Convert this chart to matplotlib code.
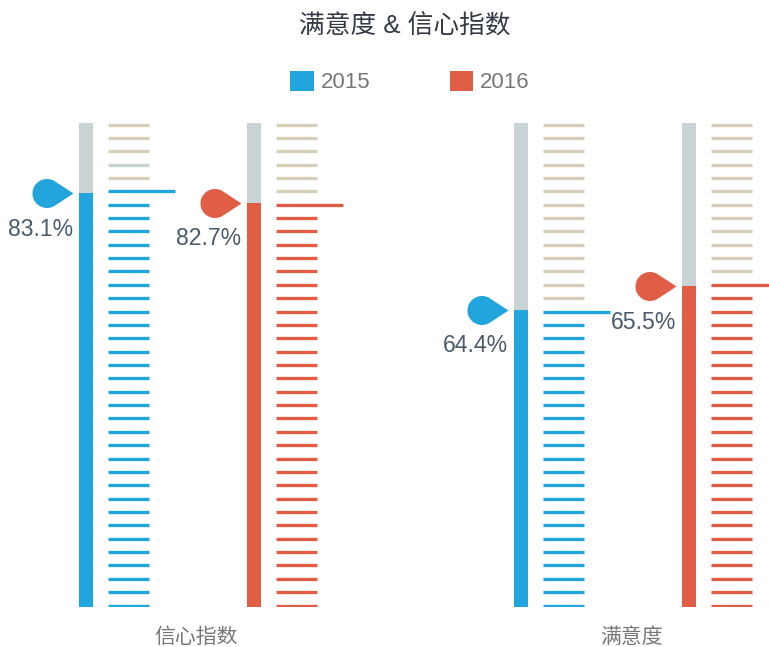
import numpy as np
import matplotlib
matplotlib.use("Agg")
import matplotlib.pyplot as plt
from matplotlib.path import Path
from matplotlib.patches import Patch

plt.rcParams['font.family'] = ['Liberation Sans', 'Noto Sans CJK SC', 'DejaVu Sans']

# ---------------- data ----------------
title = "满意度 & 信心指数"
categories = ["信心指数", "满意度"]
series_names = ["2015", "2016"]
values_2015 = [83.1, 64.4]          # value labels
values_2016 = [82.7, 65.5]
level_2015 = [85.5, 61.4]           # thermometer fill level (% of scale)
level_2016 = [83.5, 66.3]
n_ticks = 36                        # number of scale intervals

# ---------------- style ----------------
colors = ["#22a4dc", "#e05e46"]
grey = "#c9d2d5"
tan = "#d6cfb9"
label_color = "#4a5c6b"
W, H = 769, 647
fig = plt.figure(figsize=(W / 100, H / 100), dpi=100)
ax = fig.add_axes([0, 40 / H, 1, 484 / H])
ax.set_xlim(0, W)
ax.set_ylim(0, 100)
ax.axis('off')

PX = 0.72  # points per pixel
group_step = 435
group_start = 79
series_step = 168
bar_w = 14
tick_gap = 29
tick_len = 41
long_len = 67
inset = 1.5 / 484 * 100

# teardrop marker, anchored at the tip
r, d = 14.5, 26.5
th = np.arccos(r / d)
angs = np.linspace(th, 2 * np.pi - th, 60)
verts = [(0, 0)] + [(-d + r * np.cos(a), r * np.sin(a)) for a in angs] + [(0, 0)]
codes = [Path.MOVETO] + [Path.LINETO] * (len(verts) - 2) + [Path.CLOSEPOLY]
drop = Path(verts, codes)
drop_ms = 2 * (d + r) * PX

values = [values_2015, values_2016]
levels = [level_2015, level_2016]

for i, cat in enumerate(categories):
    for j in range(len(series_names)):
        left = group_start + i * group_step + j * series_step
        lvl = levels[j][i]
        val = values[j][i]
        col = colors[j]
        ax.bar(left, 100, width=bar_w, align='edge', color=grey, linewidth=0)
        ax.bar(left, lvl, width=bar_w, align='edge', color=col, linewidth=0)
        kv = int(round(lvl * n_ticks / 100))
        ks = np.arange(n_ticks + 1)
        ys = inset + ks * (100 - 2 * inset) / n_ticks
        tcols = [col if k <= kv else tan for k in ks]
        if i == 0 and j == 0:
            tcols[n_ticks - 3] = grey
        xmaxs = [left + tick_gap + (long_len if k == kv else tick_len) for k in ks]
        ax.hlines(ys, left + tick_gap, xmaxs, colors=tcols, linewidth=3.3 * PX,
                  capstyle='butt', clip_on=True)
        ax.plot(left - 6, lvl, marker=drop, markersize=drop_ms, color=col,
                markeredgewidth=0, linestyle='none')
        ax.annotate(f"{val:.1f}%", xy=(left - 5.5, lvl), xytext=(0, -36 * PX),
                    textcoords='offset points', ha='right', va='center',
                    fontsize=16.6, color=label_color)
    cx = group_start + i * group_step + 117
    ax.annotate(cat, xy=(cx, 0), xytext=(0, -30 * PX), textcoords='offset points',
                ha='center', va='center', fontsize=15, color='#777777')

fig.text(405 / W, 1 - 25 / H, title, ha='center', va='center', fontsize=18.5,
         color='#333a44')

handles = [Patch(facecolor=c, edgecolor='none') for c in colors]
fig.legend(handles, series_names, loc='center', bbox_to_anchor=(410 / W, 1 - 82 / H),
           ncol=2, frameon=False, fontsize=16, labelcolor='#777777',
           handlelength=1.05, handleheight=1.05, handletextpad=0.3,
           columnspacing=3.6)

fig.savefig("out.png", dpi=100)
